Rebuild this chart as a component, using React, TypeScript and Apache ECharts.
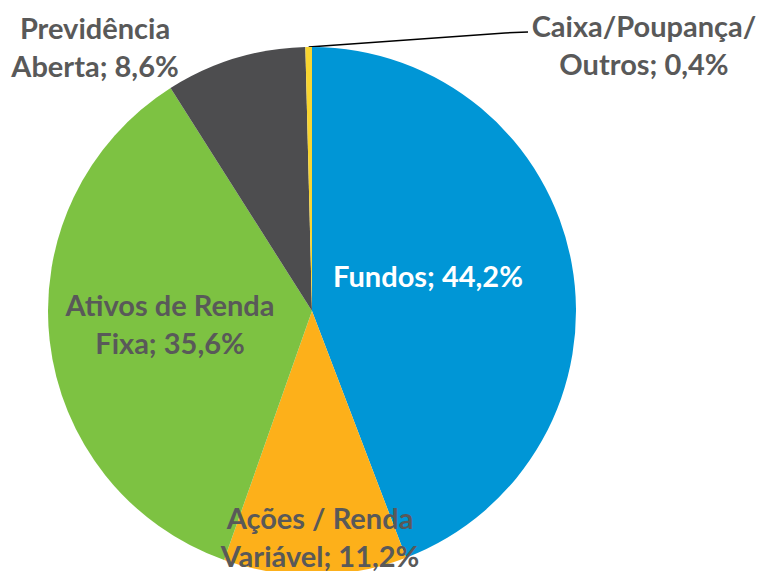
import React, { useEffect, useRef } from "react";
import * as echarts from "echarts";

const categories = ["Fundos", "Ações / Renda\nVariável", "Ativos de Renda\nFixa", "Previdência\nAberta", "Caixa/Poupança/\nOutros"];
const values = [44.2, 11.2, 35.6, 8.6, 0.4];
const colors = ["#0096D6", "#FDB01A", "#7DC242", "#4D4D4F", "#F8D530"];
const labelColors = ["#FFFFFF", "#595959", "#595959", "#595959", "#595959"];
// label anchor points (centre of text block)
const labelPos: [number, number][] = [
  [428, 275],
  [320, 536],
  [170, 323],
  [95, 46],
  [644, 44],
];

export default function App() {
  const ref = useRef<HTMLDivElement>(null);
  useEffect(() => {
    if (!ref.current) return;
    const chart = echarts.init(ref.current, undefined, { renderer: "svg" });
    chart.setOption({
      animation: false,
      backgroundColor: "#FFFFFF",
      series: [
        {
          type: "pie",
          center: [312, 311],
          radius: 264,
          startAngle: 90,
          clockwise: true,
          label: {
            show: true,
            position: "inside",
            fontFamily: "Lato",
            fontWeight: "bold",
            fontSize: 29,
            lineHeight: 38,
            align: "center",
            verticalAlign: "middle",
          },
          labelLine: { show: false },
          labelLayout: (p: any) => {
            const [x, y] = labelPos[p.dataIndex];
            const res: any = { x, y, align: "center", verticalAlign: "middle" };
            if (p.dataIndex === 4 && p.labelLinePoints) {
              const start = p.labelLinePoints[0];
              res.labelLinePoints = [start, [505, 33], [528, 32]];
            }
            return res;
          },
          data: categories.map((c, i) => ({
            name: c,
            value: values[i],
            itemStyle: { color: colors[i] },
            label: {
              color: labelColors[i],
              formatter: (d: any) => `${d.name}; ${String(values[i]).replace(".", ",")}%`,
              position: i === 4 ? "outside" : "inside",
            },
            labelLine:
              i === 4
                ? { show: true, length: 10, length2: 10, lineStyle: { color: "#000000", width: 1.5 } }
                : { show: false },
          })),
        },
      ],
    });
    return () => chart.dispose();
  }, []);
  return (
    <div
      ref={ref}
      style={{ position: "fixed", left: 0, top: 0, width: 764, height: 571 }}
    />
  );
}
